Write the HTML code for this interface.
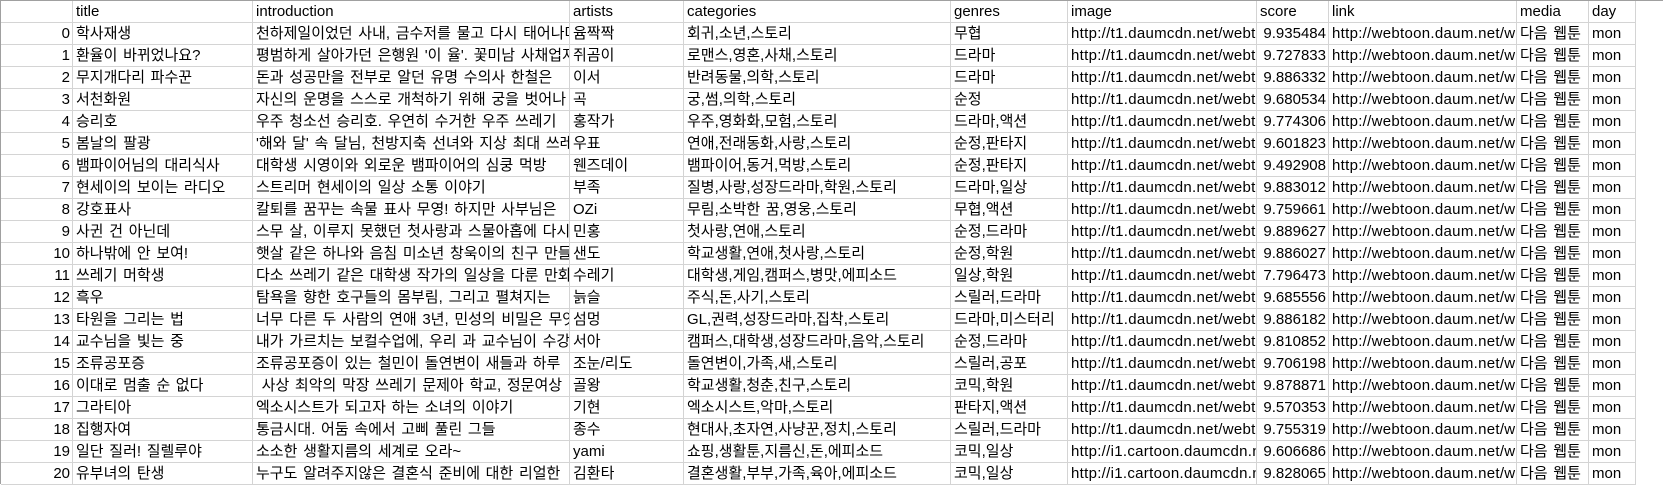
<!DOCTYPE html>
<html><head><meta charset="utf-8">
<style>
html,body{margin:0;padding:0;background:#fff;width:1663px;height:484px;overflow:hidden}
#grid{position:absolute;left:0;top:0;width:1663px;height:484px;font-family:"Liberation Sans","Noto Sans CJK KR","NanumGothic",sans-serif;font-size:15px;color:#000}
.c{position:absolute;box-sizing:border-box;border-right:1px solid #d4d4d4;border-bottom:1px solid #d4d4d4;overflow:hidden;white-space:nowrap;padding:0 2px 0 3px;line-height:21px;height:22px;word-spacing:1.5px}
.r{text-align:right}
.u{letter-spacing:0.3px}
#topline{position:absolute;left:0;top:0;width:1663px;height:1px;background:#a0a0a0}
#leftline{position:absolute;left:0;top:0;width:1px;height:484px;background:#a0a0a0}
</style></head>
<body>
<div id="grid"></div>
<script>
const headers=["","title","introduction","artists","categories","genres","image","score","link","media","day"];
const colX=[1,73,253,570,684,951,1068,1257,1329,1517,1589,1636];
const titles=["학사재생","환율이 바뀌었나요?","무지개다리 파수꾼","서천화원","승리호","봄날의 팔광","뱀파이어님의 대리식사","현세이의 보이는 라디오","강호표사","사귄 건 아닌데","하나밖에 안 보여!","쓰레기 머학생","흑우","타원을 그리는 법","교수님을 빛는 중","조류공포증","이대로 멈출 순 없다","그라티아","집행자여","일단 질러! 질렐루야","유부녀의 탄생"];
const intros=["천하제일이었던 사내, 금수저를 물고 다시 태어나다","평범하게 살아가던 은행원 '이 율'. 꽃미남 사채업자","돈과 성공만을 전부로 알던 유명 수의사 한철은","자신의 운명을 스스로 개척하기 위해 궁을 벗어나","우주 청소선 승리호. 우연히 수거한 우주 쓰레기","'해와 달' 속 달님, 천방지축 선녀와 지상 최대 쓰레기","대학생 시영이와 외로운 뱀파이어의 심쿵 먹방","스트리머 현세이의 일상 소통 이야기","칼퇴를 꿈꾸는 속물 표사 무영! 하지만 사부님은","스무 살, 이루지 못했던 첫사랑과 스물아홉에 다시","햇살 같은 하나와 음침 미소년 창욱이의 친구 만들기","다소 쓰레기 같은 대학생 작가의 일상을 다룬 만화","탐욕을 향한 호구들의 몸부림, 그리고 펼쳐지는","너무 다른 두 사람의 연애 3년, 민성의 비밀은 무엇","내가 가르치는 보컬수업에, 우리 과 교수님이 수강생","조류공포증이 있는 철민이 돌연변이 새들과 하루","\u00a0사상 최악의 막장 쓰레기 문제아 학교, 정문여상","엑소시스트가 되고자 하는 소녀의 이야기","통금시대. 어둠 속에서 고삐 풀린 그들","소소한 생활지름의 세계로 오라~","누구도 알려주지않은 결혼식 준비에 대한 리얼한"];
const artists=["윰짝짝","쥐곰이","이서","곡","홍작가","우표","웬즈데이","부족","OZi","민홍","샌도","수레기","늙슬","섬멍","서아","조눈/리도","골왕","기현","종수","yami","김환타"];
const categories=["회귀,소년,스토리","로맨스,영혼,사채,스토리","반려동물,의학,스토리","궁,썸,의학,스토리","우주,영화화,모험,스토리","연애,전래동화,사랑,스토리","뱀파이어,동거,먹방,스토리","질병,사랑,성장드라마,학원,스토리","무림,소박한 꿈,영웅,스토리","첫사랑,연애,스토리","학교생활,연애,첫사랑,스토리","대학생,게임,캠퍼스,병맛,에피소드","주식,돈,사기,스토리","GL,권력,성장드라마,집착,스토리","캠퍼스,대학생,성장드라마,음악,스토리","돌연변이,가족,새,스토리","학교생활,청춘,친구,스토리","엑소시스트,악마,스토리","현대사,초자연,사냥꾼,정치,스토리","쇼핑,생활툰,지름신,돈,에피소드","결혼생활,부부,가족,육아,에피소드"];
const genres=["무협","드라마","드라마","순정","드라마,액션","순정,판타지","순정,판타지","드라마,일상","무협,액션","순정,드라마","순정,학원","일상,학원","스릴러,드라마","드라마,미스터리","순정,드라마","스릴러,공포","코믹,학원","판타지,액션","스릴러,드라마","코믹,일상","코믹,일상"];
const scores=[9.935484,9.727833,9.886332,9.680534,9.774306,9.601823,9.492908,9.883012,9.759661,9.889627,9.886027,7.796473,9.685556,9.886182,9.810852,9.706198,9.878871,9.570353,9.755319,9.606686,9.828065];
const grid=document.getElementById('grid');
function cell(row,col,text){
  const d=document.createElement('div');
  let cls='c';
  if((col===0||col===7)&&row>=0)cls+=' r';
  if((col===6||col===8)&&row>=0)cls+=' u';
  d.className=cls;
  const top=row<0?0:23+22*row;
  d.style.left=colX[col]+'px';
  d.style.top=top+'px';
  d.style.width=(colX[col+1]-colX[col])+'px';
  d.style.height=(row<0?23:22)+'px';
  if(row<0)d.style.lineHeight='23px';
  d.textContent=text;
  grid.appendChild(d);
  return d;
}
for(let c=0;c<headers.length;c++){
  const h=cell(-1,c,headers[c]);
  
  
}
for(let i=0;i<titles.length;i++){
  const img=i>=19?"http://i1.cartoon.daumcdn.net/webtoon":"http://t1.daumcdn.net/webtoon/";
  const vals=[String(i),titles[i],intros[i],artists[i],categories[i],genres[i],img,scores[i].toFixed(6),"http://webtoon.daum.net/webtoon","다음 웹툰","mon"];
  for(let c=0;c<vals.length;c++){
    const d=cell(i,c,vals[c]);
    
    
  }
}
const t=document.createElement('div');t.id='topline';


grid.appendChild(t);
const l=document.createElement('div');l.id='leftline';


grid.appendChild(l);
</script>
</body></html>
